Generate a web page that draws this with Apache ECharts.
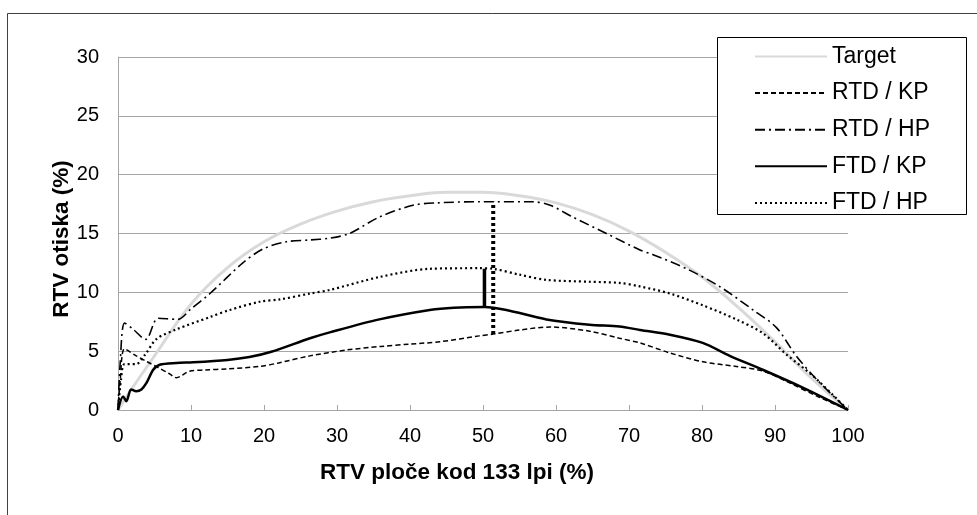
<!DOCTYPE html>
<html>
<head>
<meta charset="utf-8">
<script src="https://cdn.jsdelivr.net/npm/echarts@6/dist/echarts.min.js"></script>
<style>html,body{margin:0;padding:0;background:#fff;}#c{width:977px;height:515px;}</style>
</head>
<body>
<div id="c"></div>
<script>
// ---- data ----
var xTicks = [0, 10, 20, 30, 40, 50, 60, 70, 80, 90, 100];
var yTicks = [0, 5, 10, 15, 20, 25, 30];
var seriesNames = ['Target', 'RTD / KP', 'RTD / HP', 'FTD / KP', 'FTD / HP'];

var targetX = [0, 2, 5, 10, 15, 20, 25, 30, 35, 40, 45, 50, 55, 60, 65, 70, 75, 80, 85, 90, 95, 100];
var targetY = [0, 1.9, 4.6, 9.0, 12.1, 14.3, 15.8, 16.9, 17.7, 18.2, 18.5, 18.5, 18.2, 17.6, 16.6, 15.2, 13.4, 11.3, 8.7, 5.8, 2.7, 0];

var rtdKpX = [0, 0.3, 0.9, 2.5, 4, 5.5, 7, 8, 9.8, 12, 15, 19.4, 22, 26.3, 31.3, 36, 40, 44.1, 49.5, 51.4, 55, 59.2, 64.6, 68.7, 71.5, 75.6, 80.1, 84.7, 88.4, 92, 96, 100];
var rtdKpY = [0, 2.5, 5.2, 4.6, 4.1, 3.6, 3.1, 2.75, 3.3, 3.4, 3.5, 3.7, 4.0, 4.6, 5.1, 5.4, 5.6, 5.8, 6.3, 6.45, 6.8, 7.05, 6.7, 6.1, 5.7, 4.85, 4.1, 3.7, 3.3, 2.3, 1.1, 0];

var rtdHpX = [0, 0.3, 0.9, 2, 3.8, 5.5, 8.2, 10, 12.6, 17.1, 19.9, 23.1, 26.3, 29, 31.7, 35.8, 40.4, 43.6, 49.5, 51.4, 56.8, 59.2, 62.3, 66.9, 71.5, 73.3, 77.9, 82.4, 87, 90.2, 92.9, 95.7, 100];
var rtdHpY = [0, 4, 7.4, 6.9, 6.0, 7.8, 7.7, 8.6, 9.9, 12.5, 13.7, 14.3, 14.45, 14.6, 15.0, 16.4, 17.4, 17.6, 17.7, 17.7, 17.7, 17.4, 16.4, 15.0, 13.6, 13.2, 12.0, 10.5, 8.5, 7.0, 4.6, 2.6, 0];

var ftdKpX = [0, 0.7, 1.15, 1.8, 2.5, 3.2, 3.9, 4.8, 5.7, 8, 10.3, 15, 18, 21, 26.3, 29, 35.8, 42.7, 46, 50.2, 53.2, 58.7, 64.6, 68.7, 71.5, 75.6, 80.1, 83.8, 88.4, 93.8, 100];
var ftdKpY = [0, 1.15, 0.75, 1.75, 1.6, 1.75, 2.3, 3.4, 3.85, 4.0, 4.05, 4.25, 4.5, 4.95, 6.1, 6.6, 7.7, 8.5, 8.7, 8.75, 8.5, 7.7, 7.25, 7.1, 6.8, 6.4, 5.7, 4.6, 3.4, 1.9, 0];

var ftdHpX = [0, 0.4, 0.9, 2.5, 3.7, 5.3, 8, 12.6, 15.3, 19.4, 22.2, 26.3, 29, 35.8, 42.7, 49.5, 51.4, 55, 58.7, 64.6, 68.7, 71.5, 75.6, 80.1, 84.7, 88.4, 91.6, 95.2, 100];
var ftdHpY = [0, 2.5, 3.9, 3.9, 4.7, 6.05, 6.85, 7.9, 8.5, 9.2, 9.4, 9.9, 10.2, 11.3, 12.0, 12.05, 12.0, 11.5, 11.06, 10.9, 10.8, 10.5, 9.9, 8.9, 7.7, 6.5, 4.7, 2.9, 0];

// vertical difference markers
var rtdGapX = [51.4, 51.4];
var rtdGapY = [6.45, 17.7];
var ftdGapX = [50.2, 50.2];
var ftdGapY = [8.75, 12.0];

function pairs(xs, ys) { return xs.map(function (x, i) { return [x, ys[i]]; }); }

var FONT = 'Liberation Sans, Arial, sans-serif';
var chart = echarts.init(document.getElementById('c'));

var option = {
  animation: false,
  backgroundColor: '#fff',
  textStyle: { fontFamily: FONT },
  grid: { left: 118, right: 129, top: 57, bottom: 105 },
  xAxis: {
    type: 'value', min: 0, max: 100, interval: 10,
    name: 'RTV ploče kod 133 lpi (%)', nameLocation: 'middle', nameGap: 51, nameMoveOverlap: false,
    nameTextStyle: { fontFamily: FONT, fontSize: 22.5, fontWeight: 'bold', color: '#000', padding: [0, 52, 0, 0] },
    axisLine: { lineStyle: { color: '#a6a6a6', width: 1 } },
    axisTick: { show: true, inside: true, length: 5, lineStyle: { color: '#a6a6a6' } },
    axisLabel: { fontFamily: FONT, fontSize: 20, color: '#000', margin: 16,
      formatter: function (v) { return xTicks.indexOf(v) >= 0 ? String(v) : ''; } },
    splitLine: { show: false }
  },
  yAxis: {
    type: 'value', min: 0, max: 30, interval: 5,
    name: 'RTV otiska (%)', nameLocation: 'middle', nameGap: 45, nameMoveOverlap: false,
    nameTextStyle: { fontFamily: FONT, fontSize: 22.5, fontWeight: 'bold', color: '#000', padding: [0, 11, 0, 0] },
    axisLine: { show: true, lineStyle: { color: '#a6a6a6', width: 1 } },
    axisTick: { show: false },
    axisLabel: { fontFamily: FONT, fontSize: 20, color: '#000', margin: 19,
      formatter: function (v) { return yTicks.indexOf(v) >= 0 ? String(v) : ''; } },
    splitLine: { show: true, lineStyle: { color: '#a6a6a6', width: 1 } }
  },
  legend: {
    data: seriesNames,
    orient: 'vertical',
    left: 754, top: 45,
    itemWidth: 72, itemHeight: 22, itemGap: 13.6,
    padding: 0,
    z: 10,
    itemStyle: { opacity: 0 },
    textStyle: { fontFamily: FONT, fontSize: 23, lineHeight: 22, color: '#000' }
  },
  graphic: [
    { type: 'rect', z: 0, silent: true,
      shape: { x: 7.5, y: 13.5, width: 1000, height: 600 },
      style: { fill: 'none', stroke: '#404040', lineWidth: 1 } },
    { type: 'rect', z: 5, silent: true,
      shape: { x: 717.5, y: 37.5, width: 249, height: 177 },
      style: { fill: '#fff', stroke: '#000', lineWidth: 1 } }
  ],
  series: [
    { name: 'Target', type: 'line', data: pairs(targetX, targetY), smooth: 0.4, symbol: 'none',
      lineStyle: { color: '#d9d9d9', width: 3 }, itemStyle: { color: '#d9d9d9' }, z: 1 },
    { name: 'RTD / KP', type: 'line', data: pairs(rtdKpX, rtdKpY), smooth: 0.3, symbol: 'none',
      lineStyle: { color: '#000', width: 1.5, type: [5, 3] }, itemStyle: { color: '#000' }, z: 2 },
    { name: 'RTD / HP', type: 'line', data: pairs(rtdHpX, rtdHpY), smooth: 0.3, symbol: 'none',
      lineStyle: { color: '#000', width: 1.6, type: [10, 4, 2, 4] }, itemStyle: { color: '#000' }, z: 2 },
    { name: 'FTD / KP', type: 'line', data: pairs(ftdKpX, ftdKpY), smooth: 0.3, symbol: 'none',
      lineStyle: { color: '#000', width: 2.5 }, itemStyle: { color: '#000' }, z: 2 },
    { name: 'FTD / HP', type: 'line', data: pairs(ftdHpX, ftdHpY), smooth: 0.3, symbol: 'none',
      lineStyle: { color: '#000', width: 2.2, type: [2, 3] }, itemStyle: { color: '#000' }, z: 2 },
    { name: 'RTD gap', type: 'line', data: pairs(rtdGapX, rtdGapY), symbol: 'none',
      lineStyle: { color: '#000', width: 4, type: [3, 3] }, z: 3 },
    { name: 'FTD gap', type: 'line', data: pairs(ftdGapX, ftdGapY), symbol: 'none',
      lineStyle: { color: '#000', width: 3.5 }, z: 3 }
  ]
};
chart.setOption(option);
</script>
</body>
</html>
